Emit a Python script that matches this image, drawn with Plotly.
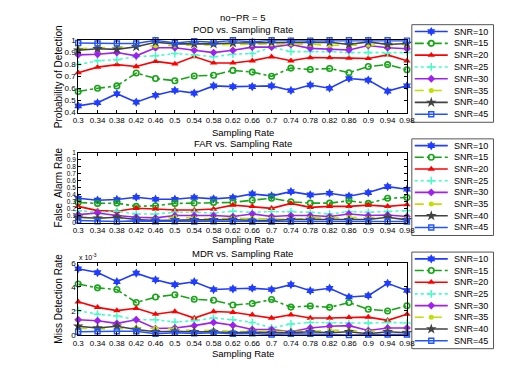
import plotly.graph_objects as go

# ---------------- data ----------------
rates = [0.3, 0.34, 0.38, 0.42, 0.46, 0.5, 0.54, 0.58, 0.62, 0.66, 0.7, 0.74, 0.78, 0.82, 0.86, 0.9, 0.94, 0.98]
rate_labels = ["0.3", "0.34", "0.38", "0.42", "0.46", "0.5", "0.54", "0.58", "0.62", "0.66", "0.7", "0.74",
               "0.78", "0.82", "0.86", "0.9", "0.94", "0.98"]
snr_names = ["SNR=10", "SNR=15", "SNR=20", "SNR=25", "SNR=30", "SNR=35", "SNR=40", "SNR=45"]

# Probability of detection
pod_snr10 = [0.455, 0.481, 0.556, 0.486, 0.543, 0.583, 0.561, 0.621, 0.615, 0.615, 0.621, 0.583, 0.629, 0.602, 0.683, 0.669, 0.578, 0.622]
pod_snr15 = [0.575, 0.602, 0.621, 0.728, 0.683, 0.664, 0.704, 0.710, 0.750, 0.736, 0.701, 0.769, 0.758, 0.766, 0.731, 0.782, 0.798, 0.755]
pod_snr20 = [0.731, 0.777, 0.798, 0.782, 0.825, 0.804, 0.865, 0.812, 0.812, 0.830, 0.863, 0.830, 0.857, 0.857, 0.852, 0.849, 0.879, 0.830]
pod_snr25 = [0.798, 0.830, 0.839, 0.865, 0.871, 0.890, 0.879, 0.863, 0.884, 0.890, 0.943, 0.906, 0.906, 0.906, 0.898, 0.898, 0.892, 0.898]
pod_snr30 = [0.879, 0.884, 0.898, 0.871, 0.938, 0.938, 0.917, 0.898, 0.917, 0.943, 0.943, 0.965, 0.933, 0.925, 0.919, 0.957, 0.938, 0.930]
pod_snr35 = [0.930, 0.940, 0.945, 0.950, 0.955, 0.958, 0.960, 0.962, 0.968, 0.968, 0.970, 0.972, 0.968, 0.958, 0.962, 0.960, 0.960, 0.965]
pod_snr40 = [0.917, 0.930, 0.925, 0.946, 0.984, 0.970, 0.970, 0.970, 0.978, 0.978, 0.984, 0.984, 0.978, 0.984, 0.965, 0.987, 0.965, 0.973]
pod_snr45 = [0.978, 0.973, 0.973, 0.973, 1.000, 0.978, 0.992, 0.984, 1.000, 0.987, 1.000, 0.997, 0.997, 1.000, 1.000, 1.000, 1.000, 0.997]

# False alarm rate
far_snr10 = [0.350, 0.322, 0.332, 0.364, 0.336, 0.336, 0.360, 0.341, 0.360, 0.411, 0.383, 0.444, 0.397, 0.421, 0.379, 0.430, 0.514, 0.477]
far_snr15 = [0.290, 0.276, 0.280, 0.234, 0.243, 0.276, 0.280, 0.290, 0.290, 0.322, 0.350, 0.299, 0.280, 0.280, 0.313, 0.276, 0.350, 0.360]
far_snr20 = [0.234, 0.173, 0.164, 0.206, 0.196, 0.182, 0.182, 0.196, 0.252, 0.234, 0.206, 0.276, 0.220, 0.234, 0.234, 0.252, 0.234, 0.257]
far_snr25 = [0.173, 0.150, 0.164, 0.126, 0.126, 0.150, 0.150, 0.140, 0.164, 0.150, 0.159, 0.159, 0.150, 0.126, 0.159, 0.150, 0.159, 0.173]
far_snr30 = [0.117, 0.140, 0.103, 0.079, 0.070, 0.103, 0.103, 0.103, 0.089, 0.126, 0.089, 0.103, 0.103, 0.089, 0.126, 0.103, 0.112, 0.089]
far_snr35 = [0.079, 0.070, 0.056, 0.047, 0.047, 0.079, 0.065, 0.056, 0.065, 0.065, 0.056, 0.047, 0.070, 0.065, 0.079, 0.065, 0.079, 0.056]
far_snr40 = [0.079, 0.065, 0.079, 0.047, 0.033, 0.042, 0.042, 0.042, 0.047, 0.033, 0.033, 0.047, 0.047, 0.047, 0.042, 0.047, 0.079, 0.042]
far_snr45 = [0.033, 0.023, 0.019, 0.028, 0.023, 0.023, 0.019, 0.023, 0.019, 0.019, 0.019, 0.019, 0.023, 0.019, 0.019, 0.019, 0.019, 0.019]

# Miss detection rate
mdr_snr10 = [5.51e-3, 5.19e-3, 4.43e-3, 5.14e-3, 4.59e-3, 4.19e-3, 4.43e-3, 3.78e-3, 3.84e-3, 3.89e-3, 3.78e-3, 4.19e-3, 3.68e-3, 3.89e-3, 3.16e-3, 3.27e-3, 4.30e-3, 3.70e-3]
mdr_snr15 = [4.24e-3, 3.92e-3, 3.78e-3, 2.70e-3, 3.16e-3, 3.35e-3, 2.97e-3, 2.89e-3, 2.49e-3, 2.62e-3, 2.95e-3, 2.32e-3, 2.41e-3, 2.30e-3, 2.70e-3, 2.14e-3, 2.00e-3, 2.43e-3]
mdr_snr20 = [2.76e-3, 2.30e-3, 2.03e-3, 2.22e-3, 1.73e-3, 1.95e-3, 1.41e-3, 1.95e-3, 1.89e-3, 1.68e-3, 1.41e-3, 1.68e-3, 1.41e-3, 1.41e-3, 1.46e-3, 1.49e-3, 1.22e-3, 1.73e-3]
mdr_snr25 = [2.03e-3, 1.73e-3, 1.59e-3, 1.27e-3, 1.27e-3, 1.08e-3, 1.19e-3, 1.41e-3, 1.27e-3, 1.05e-3, 0.59e-3, 0.92e-3, 1.05e-3, 1.00e-3, 1.00e-3, 1.00e-3, 1.05e-3, 1.00e-3]
mdr_snr30 = [1.27e-3, 1.19e-3, 0.97e-3, 1.27e-3, 0.54e-3, 0.59e-3, 0.78e-3, 1.05e-3, 0.81e-3, 0.46e-3, 0.46e-3, 0.27e-3, 0.59e-3, 0.73e-3, 0.78e-3, 0.38e-3, 0.59e-3, 0.59e-3]
mdr_snr35 = [0.55e-3, 0.50e-3, 0.50e-3, 0.60e-3, 0.55e-3, 0.50e-3, 0.35e-3, 0.40e-3, 0.30e-3, 0.30e-3, 0.25e-3, 0.30e-3, 0.30e-3, 0.40e-3, 0.40e-3, 0.30e-3, 0.35e-3, 0.30e-3]
mdr_snr40 = [0.73e-3, 0.59e-3, 0.73e-3, 0.46e-3, 0.27e-3, 0.32e-3, 0.27e-3, 0.27e-3, 0.19e-3, 0.24e-3, 0.19e-3, 0.19e-3, 0.27e-3, 0.19e-3, 0.27e-3, 0.11e-3, 0.27e-3, 0.19e-3]
mdr_snr45 = [0.27e-3, 0.32e-3, 0.32e-3, 0.32e-3, 0.11e-3, 0.19e-3, 0.14e-3, 0.19e-3, 0.11e-3, 0.14e-3, 0.05e-3, 0.11e-3, 0.11e-3, 0.05e-3, 0.00e-3, 0.05e-3, 0.05e-3, 0.05e-3]

mdr_tick_vals = [0, 0.002, 0.004, 0.006]
mdr_tick_text = ["0", "2", "4", "6"]

pod_series = [pod_snr10, pod_snr15, pod_snr20, pod_snr25, pod_snr30, pod_snr35, pod_snr40, pod_snr45]
far_series = [far_snr10, far_snr15, far_snr20, far_snr25, far_snr30, far_snr35, far_snr40, far_snr45]
mdr_series = [mdr_snr10, mdr_snr15, mdr_snr20, mdr_snr25, mdr_snr30, mdr_snr35, mdr_snr40, mdr_snr45]

# ---------------- styles ----------------
styles = [
    dict(color="#1f3cff", dash="solid", symbol="hexagram", size=7, lw=0),
    dict(color="#17a417", dash="dashdot", symbol="circle-open", size=5.5, lw=1.6),
    dict(color="#ff0000", dash="solid", symbol="triangle-up", size=6.5, lw=0),
    dict(color="#44ffc4", dash="dot", symbol="cross-thin", size=5.5, lw=1.5),
    dict(color="#a020f0", dash="solid", symbol="diamond", size=6, lw=0),
    dict(color="#bfe000", dash="dash", symbol="circle", size=5, lw=0),
    dict(color="#424242", dash="solid", symbol="star", size=8, lw=0),
    dict(color="#2255ff", dash="solid", symbol="square-open", size=5, lw=1.4),
]

FONT = "Liberation Sans, Arial, sans-serif"
W, H = 512, 374
X0, X1 = 66 / W, 404 / W
sub_px = [(29, 103), (144, 216), (257, 331)]          # top/bottom pixel of each axes
leg_px = [(13, 113), (130, 229), (246, 345)]          # top/bottom pixel of each legend box
LX0, LX1 = 409 / W, 493 / W

fig = go.Figure()


def add_marker_trace(xs, ys, st, xa, ya, clip=False):
    fig.add_trace(go.Scatter(
        x=xs, y=ys, mode="lines+markers", xaxis=xa, yaxis=ya, showlegend=False, cliponaxis=clip,
        line=dict(color=st["color"], width=1.6, dash=st["dash"]),
        marker=dict(symbol=st["symbol"], size=st["size"], color=st["color"],
                    line=dict(color=st["color"], width=st["lw"])),
        hoverinfo="skip"))


all_series = [pod_series, far_series, mdr_series]
for k, series in enumerate(all_series):
    xa = "x" if k == 0 else f"x{k + 1}"
    ya = "y" if k == 0 else f"y{k + 1}"
    for vals, st in zip(series, styles):
        add_marker_trace(rates, vals, st, xa, ya)

# manual legends (one per panel) on hidden helper axes
for k in range(3):
    xa = f"x{k + 4}"
    ya = f"y{k + 4}"
    for i, (name, st) in enumerate(zip(snr_names, styles)):
        ypos = 100 - 7 - 12.1 * i
        fig.add_trace(go.Scatter(
            x=[0.036, 0.44], y=[ypos, ypos], mode="lines", xaxis=xa, yaxis=ya, showlegend=False,
            line=dict(color=st["color"], width=1.6, dash=st["dash"]), hoverinfo="skip", cliponaxis=False))
        fig.add_trace(go.Scatter(
            x=[0.238], y=[ypos], mode="markers", xaxis=xa, yaxis=ya, showlegend=False,
            marker=dict(symbol=st["symbol"], size=st["size"], color=st["color"],
                        line=dict(color=st["color"], width=st["lw"])), hoverinfo="skip", cliponaxis=False))
        fig.add_annotation(x=0.49, y=ypos, xref=xa, yref=ya, text=name, showarrow=False,
                           xanchor="left", yanchor="middle", font=dict(family=FONT, size=9, color="black"))


def main_axis(**kw):
    d = dict(showline=True, linecolor="black", linewidth=1, mirror="ticks", ticks="inside", ticklen=3,
             tickcolor="black", showgrid=False, zeroline=False,
             tickfont=dict(family=FONT, size=8, color="black"))
    d.update(kw)
    return d


def hidden_axis(**kw):
    d = dict(visible=False, showgrid=False, zeroline=False, fixedrange=True)
    d.update(kw)
    return d


layout = dict(
    width=W, height=H, autosize=False,
    margin=dict(l=0, r=0, t=0, b=0),
    paper_bgcolor="white", plot_bgcolor="white",
    font=dict(family=FONT, size=9, color="black"),
)
y_ranges = [[0.4, 1.0], [0, 1.0], [0, 0.006]]
y_ticks = [
    dict(tickvals=[0.4, 0.5, 0.6, 0.7, 0.8, 0.9, 1.0], ticktext=["0.4", "0.5", "0.6", "0.7", "0.8", "0.9", "1"],
         tickfont=dict(family=FONT, size=8, color="black")),
    dict(tickvals=[0, 0.1, 0.2, 0.3, 0.4, 0.5, 0.6, 0.7, 0.8, 0.9, 1.0],
         ticktext=["0", "0.1", "0.2", "0.3", "0.4", "0.5", "0.6", "0.7", "0.8", "0.9", "1"],
         tickfont=dict(family=FONT, size=6.5, color="black")),
    dict(tickvals=mdr_tick_vals, ticktext=mdr_tick_text, tickfont=dict(family=FONT, size=8, color="black")),
]
for k in range(3):
    top, bot = sub_px[k]
    dom = [1 - bot / H, 1 - top / H]
    sx = "" if k == 0 else str(k + 1)
    layout[f"xaxis{sx}"] = main_axis(domain=[X0, X1], range=[0.3, 0.98], anchor=f"y{sx}",
                                     tickvals=rates, ticktext=rate_labels)
    layout[f"yaxis{sx}"] = main_axis(domain=dom, range=y_ranges[k], anchor=f"x{sx}", **y_ticks[k])
    ltop, lbot = leg_px[k]
    layout[f"xaxis{k + 4}"] = hidden_axis(domain=[LX0, LX1], range=[0, 1], anchor=f"y{k + 4}")
    layout[f"yaxis{k + 4}"] = hidden_axis(domain=[1 - lbot / H, 1 - ltop / H], range=[0, 100], anchor=f"x{k + 4}")

fig.update_layout(**layout)

# legend boxes
for k in range(3):
    ltop, lbot = leg_px[k]
    fig.add_shape(type="rect", xref="paper", yref="paper", x0=LX0, x1=LX1,
                  y0=1 - lbot / H, y1=1 - ltop / H, line=dict(color="#555555", width=1),
                  fillcolor="white", layer="below")

# titles and axis labels
cx = (X0 + X1) / 2


def ann(text, x, ypx, size=9.5, angle=0, xanchor="center"):
    fig.add_annotation(x=x, y=1 - ypx / H, xref="paper", yref="paper", text=text, showarrow=False,
                       xanchor=xanchor, yanchor="middle", textangle=angle,
                       font=dict(family=FONT, size=size, color="black"))


ann("no\u2212PR = 5", cx, 6)
ann("POD vs. Sampling Rate", cx, 18)
ann("Sampling Rate", cx, 123)
ann("FAR vs. Sampling Rate", cx, 135)
ann("Sampling Rate", cx, 233)
ann("MDR vs. Sampling Rate", cx, 247)
ann("Sampling Rate", cx, 350)
ann("x 10<sup>-3</sup>", 65 / W, 251, size=7, xanchor="left")
ann("Probability of Detection", 46 / W, 66, size=10, angle=-90)
ann("False  Alarm Rate", 46 / W, 180, size=10, angle=-90)
ann("Miss Detection Rate", 46 / W, 294, size=10, angle=-90)

fig.write_html("out.html")
